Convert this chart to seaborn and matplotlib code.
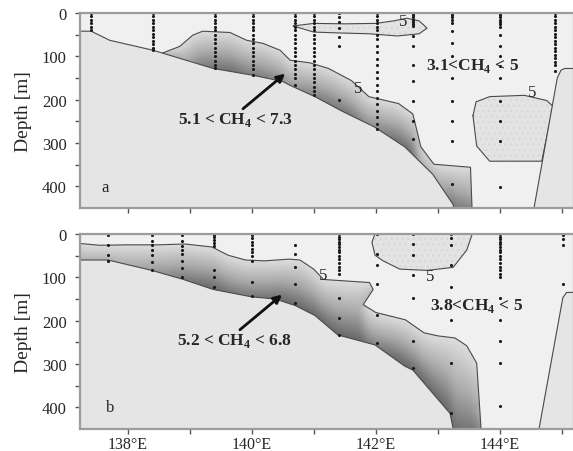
import numpy as np
import pandas as pd
import matplotlib
matplotlib.use("Agg")
import matplotlib.pyplot as plt
import seaborn as sns
from matplotlib.path import Path
from matplotlib.patches import PathPatch
from matplotlib.colors import LinearSegmentedColormap

sns.set_style("ticks")
plt.rcParams['font.family'] = ['Liberation Serif', 'DejaVu Serif']
plt.rcParams['mathtext.fontset'] = 'custom'
plt.rcParams['mathtext.rm'] = 'Liberation Serif'
plt.rcParams['mathtext.bf'] = 'Liberation Serif:bold'
plt.rcParams['hatch.linewidth'] = 0.5

# ---------------- data: panel a ----------------
a_station_lon = [137.41, 138.41, 139.41, 140.02, 140.70, 141.00, 141.41, 142.02, 142.60, 143.23, 144.00, 144.90]
a_station_depths = [
    [0, 8, 16, 24, 32, 40],
    [0, 8, 16, 24, 32, 40, 48, 56, 64, 72, 80, 86],
    [0, 8, 16, 24, 32, 40, 50, 60, 70, 80, 90, 100, 110, 120, 128],
    [0, 8, 16, 24, 32, 40, 50, 60, 70, 80, 90, 100, 110, 120, 130, 142],
    [0, 8, 16, 24, 32, 40, 50, 60, 70, 80, 90, 100, 110, 120, 130, 140, 150, 165],
    [0, 8, 16, 24, 32, 40, 50, 60, 70, 80, 90, 100, 110, 120, 130, 140, 150, 160, 170, 180, 190],
    [0, 10, 20, 35, 55, 75, 200],
    [0, 8, 16, 24, 32, 40, 50, 60, 75, 90, 105, 120, 135, 150, 165, 180, 195, 210, 225, 240, 255, 267],
    [0, 5, 10, 15, 20, 25, 30, 53, 77, 121, 156, 202, 249, 291],
    [0, 5, 10, 15, 23, 42, 70, 100, 151, 202, 249, 295, 395],
    [0, 5, 10, 15, 20, 25, 33, 51, 77, 100, 123, 151, 202, 249, 295, 402],
    [0, 8, 16, 24, 32, 40, 48, 56, 64, 72, 80, 88, 96, 104, 112, 120, 133],
]
a_floor_lon = [137.0, 137.41, 137.71, 138.41, 139.38, 140.03, 140.50, 140.62, 141.02, 141.45, 141.98, 142.47, 142.92, 143.25, 143.28]
a_floor_dep = [42, 42, 63, 86, 128, 144, 158, 167, 193, 226, 263, 309, 372, 442, 470]
a_land_lon = [144.53, 144.93, 144.99, 145.05, 145.6]
a_land_dep = [470, 150, 132, 128, 128]
a_c5_lon = [138.55, 138.84, 139.05, 139.21, 139.65, 139.92, 140.18, 140.46, 140.62, 140.94, 141.24, 141.61,
            141.89, 142.37, 142.60, 142.73, 142.94, 143.53, 143.56]
a_c5_dep = [93, 77, 51, 42, 45, 63, 70, 86, 109, 115, 128, 156, 193, 209, 233, 309, 349, 356, 470]
a_top_lon = [140.67, 141.0, 141.5, 142.0, 142.3, 142.5, 142.7, 142.83, 142.7, 142.35, 141.9, 141.4, 141.0, 140.67]
a_top_dep = [30, 24, 25, 24, 18, 12, 18, 35, 48, 53, 48, 46, 44, 30]
a_deep_lon = [143.57, 143.62, 143.84, 144.40, 144.76, 144.86, 144.68, 143.84, 143.63, 143.57]
a_deep_dep = [237, 205, 193, 190, 202, 215, 342, 342, 307, 237]

# ---------------- data: panel b ----------------
b_station_lon = [137.68, 138.39, 138.88, 139.39, 140.00, 140.70, 141.41, 142.02, 142.60, 143.21, 144.00, 145.02]
b_station_depths = [
    [3, 25, 48, 62],
    [3, 15, 26, 37, 49, 65, 82],
    [3, 15, 27, 37, 47, 63, 79, 100],
    [2, 8, 14, 20, 27, 84, 100, 123],
    [3, 10, 18, 26, 34, 42, 50, 63, 110, 142],
    [26, 47, 75, 116, 160],
    [0, 6, 12, 18, 24, 30, 36, 42, 50, 58, 66, 75, 84, 93, 147, 193, 233],
    [0, 47, 72, 116, 188, 251],
    [0, 23, 49, 95, 147, 247, 309],
    [0, 10, 26, 72, 123, 198, 298, 414],
    [0, 6, 12, 18, 24, 30, 36, 42, 50, 58, 66, 75, 84, 93, 100, 147, 198, 247, 298, 398],
    [2, 12, 26, 116],
]
b_floor_lon = [137.0, 137.68, 138.39, 138.90, 139.38, 140.00, 140.38, 140.70, 141.02, 141.39, 141.99, 142.47, 142.60, 143.20, 143.28]
b_floor_dep = [60, 60, 84, 105, 128, 145, 150, 165, 188, 233, 256, 305, 314, 414, 470]
b_land_lon = [144.61, 145.02, 145.08, 145.6]
b_land_dep = [470, 147, 135, 133]
b_c5_lon = [137.0, 137.55, 138.0, 138.5, 138.92, 139.36, 139.62, 139.90, 140.20, 140.60, 140.78, 141.0, 141.16,
            141.37, 141.90, 141.96, 141.80, 142.0, 142.48, 142.78, 143.0, 143.28, 143.47, 143.63, 143.71]
b_c5_dep = [19, 26, 25, 25, 23, 30, 49, 60, 62, 58, 60, 81, 105, 107, 112, 128, 163, 181, 198, 228, 235, 240, 258, 298, 470]
b_top_lon = [142.0, 141.94, 141.99, 142.12, 142.39, 142.83, 143.25, 143.47, 143.57]
b_top_dep = [-5, 19, 49, 62, 81, 84, 77, 37, -5]

# text labels
a_range_label = r"5.1 < CH$_\mathbf{4}$ < 7.3"
a_bg_label = r"3.1<CH$_\mathbf{4}$ < 5"
b_range_label = r"5.2 < CH$_\mathbf{4}$ < 6.8"
b_bg_label = r"3.8<CH$_\mathbf{4}$ < 5"
a_range_pos = (139.73, 244)
b_range_pos = (139.73, 244)
a_arrow = [(139.86, 221), (140.54, 140)]
b_arrow = [(139.81, 221), (140.49, 140)]
a_five_pos = [(142.44, 19), (141.72, 172), (144.52, 182)]
b_five_pos = [(141.15, 95), (142.88, 98)]

xticks_major = [138, 140, 142, 144]
xtick_labels = ["138°E", "140°E", "142°E", "144°E"]
xticks_minor = [139, 141, 143, 145]
yticks_major = [0, 100, 200, 300, 400]
yticks_minor = [50, 150, 250, 350]

# ---------------- figure ----------------
W, H = 573, 452
fig = plt.figure(figsize=(W / 100, H / 100), dpi=100)
axA = fig.add_axes([80 / W, (H - 209) / H, 494 / W, 195 / H])
axB = fig.add_axes([80 / W, (H - 430) / H, 494 / W, 195 / H])

WATER = '#f0f0f0'
FLOOR = '#e5e5e5'
LINE = '#4a4a4a'
cmap = LinearSegmentedColormap.from_list('ch4', [(0.0, '#dedede'), (0.5, '#ababab'), (1.0, '#686868')])

LON_G = np.linspace(137.0, 145.6, 431)
DEP_G = np.linspace(0, 470, 236)
DZ = DEP_G[1] - DEP_G[0]
LL, DD = np.meshgrid(LON_G, DEP_G)
PTS = np.column_stack([LL.ravel(), DD.ravel()])


def gblur(a, sx, sy):
    def k(s):
        n = max(int(3 * s), 1)
        x = np.arange(-n, n + 1)
        g = np.exp(-0.5 * (x / s) ** 2)
        return g / g.sum(), n
    kx, nx = k(sx)
    ky, ny = k(sy)
    p = np.pad(a, ((0, 0), (nx, nx)), mode='edge')
    a = np.apply_along_axis(lambda r: np.convolve(r, kx, mode='valid'), 1, p)
    p = np.pad(a, ((ny, ny), (0, 0)), mode='edge')
    a = np.apply_along_axis(lambda c: np.convolve(c, ky, mode='valid'), 0, p)
    return a


def shading(inb, inf):
    vis = inb & ~inf
    v = np.zeros(vis.shape)
    for j in range(vis.shape[1]):
        idx = np.flatnonzero(vis[:, j])
        if idx.size == 0:
            continue
        runs = np.split(idx, np.flatnonzero(np.diff(idx) > 1) + 1)
        for r in runs:
            n = r.size
            frac = (np.arange(n) + 0.5) / n
            scale = np.clip(n * DZ / 95.0, 0.45, 1.0)
            v[r, j] = frac * scale
            end = r[-1] + 1
            if end < vis.shape[0] and inf[end, j]:
                v[end:, j] = v[r[-1], j]
    mask = (vis | inf).astype(float)
    num = gblur(v * mask, 3, 2)
    den = gblur(mask, 3, 2)
    return np.where(den > 0, num / np.maximum(den, 1e-9), 0)


def panel(ax, st_lon, st_dep, fl_lon, fl_dep, ld_lon, ld_dep, c5_lon, c5_dep, patches):
    ax.set_facecolor(WATER)
    band = list(zip(c5_lon, c5_dep)) + [(c5_lon[-1], 480), (c5_lon[0], 480)]
    floor = list(zip(fl_lon, fl_dep)) + [(fl_lon[-1], 480), (fl_lon[0], 480)]
    bp, fp = Path(band), Path(floor)
    inb = bp.contains_points(PTS).reshape(LL.shape)
    inf = fp.contains_points(PTS).reshape(LL.shape)
    v = shading(inb, inf)
    im = ax.imshow(v, extent=[LON_G[0], LON_G[-1], DEP_G[-1], DEP_G[0]], origin='upper',
                   aspect='auto', cmap=cmap, vmin=0.0, vmax=1.0, interpolation='bilinear', zorder=1)
    pp = PathPatch(bp, transform=ax.transData, facecolor='none', edgecolor='none')
    ax.add_patch(pp)
    im.set_clip_path(pp)
    ax.plot(c5_lon, c5_dep, color=LINE, lw=0.8, zorder=3)
    for plon, pdep in patches:
        ax.fill(plon, pdep, facecolor='#e3e3e3', edgecolor='#d3d3d3', hatch='...', lw=0, zorder=2)
        ax.plot(plon, pdep, color=LINE, lw=0.8, zorder=3)
    ax.fill(fl_lon + [fl_lon[-1], fl_lon[0]], fl_dep + [480, 480], facecolor=FLOOR, edgecolor='none', zorder=4)
    ax.plot(fl_lon, fl_dep, color=LINE, lw=0.8, zorder=4)
    ax.fill(ld_lon + [ld_lon[-1], ld_lon[0]], ld_dep + [480, 480], facecolor=FLOOR, edgecolor='none', zorder=4)
    ax.plot(ld_lon, ld_dep, color=LINE, lw=0.8, zorder=4)
    rows = [(lo, d) for lo, ds in zip(st_lon, st_dep) for d in ds]
    df = pd.DataFrame(rows, columns=['lon', 'depth'])
    sns.scatterplot(data=df, x='lon', y='depth', ax=ax, s=5, color='#1a1a1a', linewidth=0, zorder=5)
    ax.set_xlim(137.23, 145.2)
    ax.set_ylim(450, 0)
    ax.set_xticks(xticks_major)
    ax.set_xticks(xticks_minor, minor=True)
    ax.set_yticks(yticks_major)
    ax.set_yticks(yticks_minor, minor=True)
    ax.set_xlabel('')
    ax.set_ylabel('Depth [m]', fontsize=14, labelpad=7)
    ax.tick_params(which='both', direction='out', length=3.5, width=1, color='#555555',
                   labelsize=12)
    ax.tick_params(axis='y', pad=6)
    ax.tick_params(axis='x', pad=1.5, labelsize=11.5)
    for s in ax.spines.values():
        s.set_color('#9c9c9c')
        s.set_linewidth(1.6)
        s.set_zorder(6)


panel(axA, a_station_lon, a_station_depths, a_floor_lon, a_floor_dep, a_land_lon, a_land_dep,
      a_c5_lon, a_c5_dep, [(a_top_lon, a_top_dep), (a_deep_lon, a_deep_dep)])
panel(axB, b_station_lon, b_station_depths, b_floor_lon, b_floor_dep, b_land_lon, b_land_dep,
      b_c5_lon, b_c5_dep, [(b_top_lon, b_top_dep)])

axA.set_xticklabels([])
axB.set_xticklabels(xtick_labels)

tk = dict(fontsize=12.5, fontweight='bold', ha='center', va='center', zorder=7)
arrow_props = dict(arrowstyle='-|>', color='#111111', lw=2, mutation_scale=12, shrinkA=0, shrinkB=0)
for ax, lab, pos, arr in [(axA, a_range_label, a_range_pos, a_arrow), (axB, b_range_label, b_range_pos, b_arrow)]:
    ax.text(pos[0], pos[1], lab, **tk)
    ax.annotate('', xy=arr[1], xytext=arr[0], arrowprops=arrow_props, zorder=7)
axA.text(143.57, 121, a_bg_label, **tk)
axB.text(143.63, 163, b_bg_label, **tk)
for x, y in a_five_pos:
    axA.text(x, y, '5', fontsize=12, ha='center', va='center', zorder=7, color='#222222')
for x, y in b_five_pos:
    axB.text(x, y, '5', fontsize=12, ha='center', va='center', zorder=7, color='#222222')
axA.text(137.63, 402, 'a', fontsize=12, ha='center', va='center', zorder=7)
axB.text(137.71, 400, 'b', fontsize=12, ha='center', va='center', zorder=7)

fig.savefig('out.png', dpi=100)
